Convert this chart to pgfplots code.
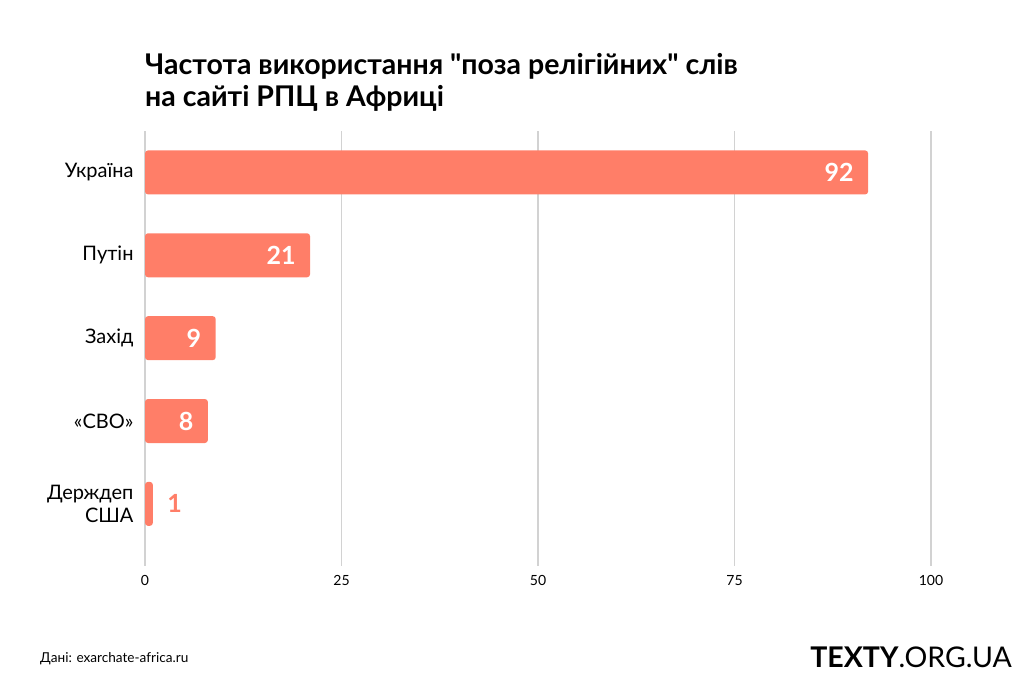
\documentclass[border=0pt]{standalone}
\usepackage{fontspec}
\setmainfont{Lato}
\newfontfamily\plainfont{Lato}
\usepackage{pgfplots}
\pgfplotsset{compat=1.18}
\definecolor{barc}{RGB}{255,126,104}
\definecolor{gridc}{RGB}{210,210,210}
\begin{document}
\begin{tikzpicture}[x=1pt,y=1pt]
\path[use as bounding box] (0,0) rectangle (1024,683);
\begin{axis}[
  at={(145pt,117pt)}, anchor=south west,
  scale only axis, width=786pt, height=435pt,
  xmin=0, xmax=100, ymin=-0.5, ymax=4.75, y dir=reverse,
  xbar, bar width=44pt, bar shift=0pt,
  xtick={0,25,50,75,100},
  ytick={0,1,2,3,4},
  yticklabels={Україна,Путін,Захід,«СВО»,{Держдеп\\США}},
  yticklabel style={align=right, font=\fontsize{20}{23}\selectfont, xshift=-8pt},
  xticklabel style={font=\fontsize{14}{16}\selectfont, yshift=-6pt},
  /pgf/number format/assume math mode=true,
  axis line style={draw=none}, major tick length=0pt,
  xmajorgrids, major grid style={draw=gridc, line width=1.5pt},
  clip=false,
]
\addplot[fill=barc, draw=none, rounded corners=3pt,
  nodes near coords,
  every node near coord/.style={anchor=east, text=white, font=\bfseries\fontsize{25}{25}\selectfont, xshift=-11pt}]
  coordinates {(92,0) (21,1) (9,2) (8,3)};
\addplot[fill=barc, draw=none, rounded corners=3pt,
  nodes near coords,
  every node near coord/.style={anchor=west, text=barc, font=\bfseries\fontsize{25}{25}\selectfont, xshift=11pt}]
  coordinates {(1,4)};
\end{axis}
\node[anchor=base west, font=\plainfont\bfseries\fontsize{28.5}{32}\selectfont, inner sep=0pt] at (145,608) {Частота використання "поза релігійних" слів};
\node[anchor=base west, font=\plainfont\bfseries\fontsize{28.5}{32}\selectfont, inner sep=0pt] at (145,576) {на сайті РПЦ в Африці};
\node[anchor=base west, font=\fontsize{13.6}{15}\selectfont, inner sep=0pt] at (40,21) {Дані: exarchate-africa.ru};
\node[anchor=base east, font=\fontsize{28.5}{32}\selectfont, inner sep=0pt] at (1012,16) {\textbf{TEXTY}.ORG.UA};
\end{tikzpicture}
\end{document}
